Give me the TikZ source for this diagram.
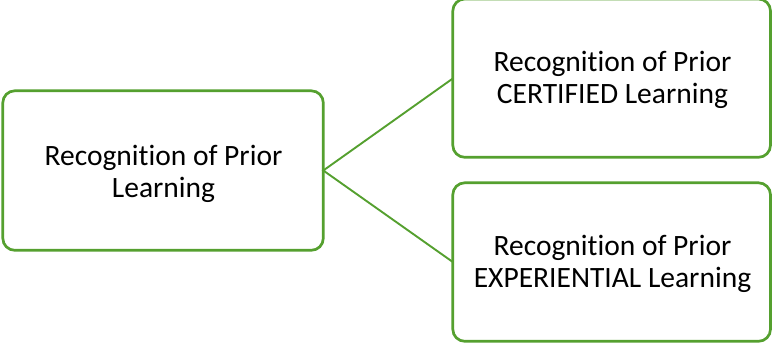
\documentclass[tikz,border=0pt]{standalone}
\usepackage{fontspec}
\setmainfont{Carlito}[Ligatures=NoCommon]
\definecolor{rplgreen}{HTML}{55A02F}
\begin{document}
\begin{tikzpicture}[x=1pt,y=-1pt,
  box/.style={draw=rplgreen,line width=2.7pt,rounded corners=12pt,fill=white},
  lbl/.style={align=center,font=\fontsize{29.5}{32.5}\selectfont,text=black},
  conn/.style={draw=rplgreen,line width=1.9pt}]
\useasboundingbox (0,0) rectangle (772,344);
\draw[box] (2.8,90.8) rectangle (323.3,250.3);
\draw[box] (452.8,-1) rectangle (770.5,157.3);
\draw[box] (452.8,182.8) rectangle (770.5,341.3);
\coordinate (L) at (323.3,170.5);
\coordinate (T) at (452.8,78.5);
\coordinate (B) at (452.8,262);
\node[lbl] (lt) at (163.5,174) {Recognition of Prior\\Learning};
\node[lbl] (tt) at (612.5,80) {Recognition of Prior\\CERTIFIED Learning};
\node[lbl] (bt) at (612.5,264) {Recognition of Prior\\EXPERIENTIAL Learning};
\draw[conn] (T) -- (L) -- (B);
\end{tikzpicture}
\end{document}
